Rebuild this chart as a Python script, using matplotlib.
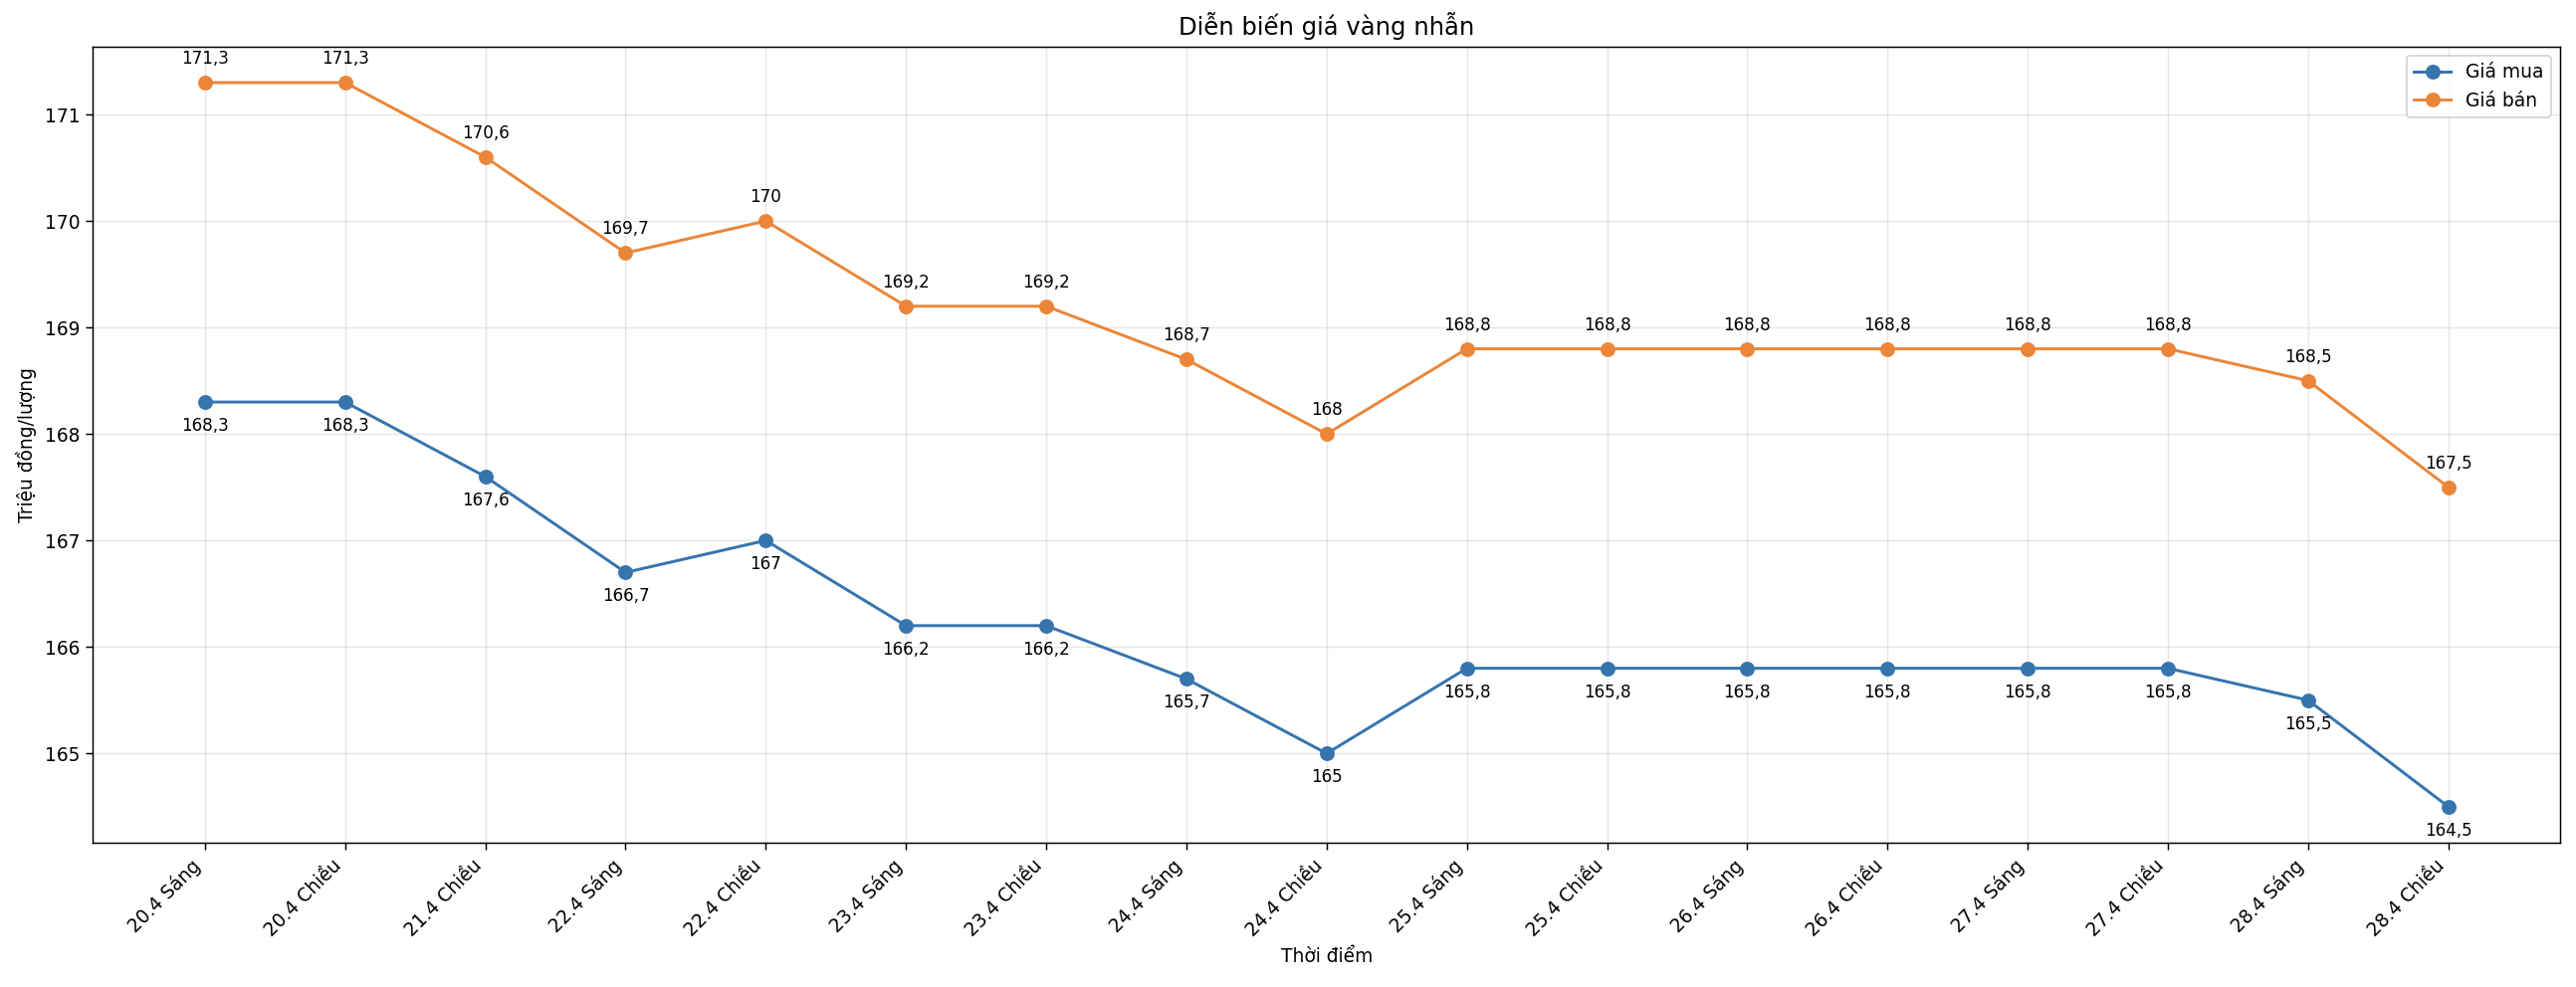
import numpy as np
import matplotlib
matplotlib.use("Agg")
import matplotlib.pyplot as plt

TIME_LABELS = [
    "20.4 Sáng", "20.4 Chiều", "21.4 Chiều", "22.4 Sáng", "22.4 Chiều",
    "23.4 Sáng", "23.4 Chiều", "24.4 Sáng", "24.4 Chiều", "25.4 Sáng",
    "25.4 Chiều", "26.4 Sáng", "26.4 Chiều", "27.4 Sáng", "27.4 Chiều",
    "28.4 Sáng", "28.4 Chiều",
]
GIA_MUA = [168.3, 168.3, 167.6, 166.7, 167.0, 166.2, 166.2, 165.7, 165.0,
           165.8, 165.8, 165.8, 165.8, 165.8, 165.8, 165.5, 164.5]
GIA_BAN = [171.3, 171.3, 170.6, 169.7, 170.0, 169.2, 169.2, 168.7, 168.0,
           168.8, 168.8, 168.8, 168.8, 168.8, 168.8, 168.5, 167.5]

COLOR_MUA = "#3674AE"
COLOR_BAN = "#EB8639"
DPI = 134


def fmt(v):
    return f"{v:g}".replace(".", ",")


def main():
    fig, ax = plt.subplots(figsize=(2588 / DPI, 992 / DPI), dpi=DPI)
    x = np.arange(len(TIME_LABELS))

    ax.plot(x, GIA_MUA, marker="o", color=COLOR_MUA, linewidth=1.6, markersize=7, label="Giá mua")
    ax.plot(x, GIA_BAN, marker="o", color=COLOR_BAN, linewidth=1.6, markersize=7, label="Giá bán")

    for xi, v in zip(x, GIA_MUA):
        ax.annotate(fmt(v), (xi, v), xytext=(0, -8), textcoords="offset points",
                    ha="center", va="top", fontsize=9)
    for xi, v in zip(x, GIA_BAN):
        ax.annotate(fmt(v), (xi, v), xytext=(0, 8), textcoords="offset points",
                    ha="center", va="bottom", fontsize=9)

    ax.set_xticks(x)
    ax.set_xticklabels(TIME_LABELS, rotation=45, ha="right", fontsize=10)
    ax.tick_params(axis="y", labelsize=10)
    ax.set_title("Diễn biến giá vàng nhẫn", fontsize=13)
    ax.set_xlabel("Thời điểm", fontsize=10)
    ax.set_ylabel("Triệu đồng/lượng", fontsize=10)
    ax.grid(True, alpha=0.3)
    ax.legend(loc="upper right", fontsize=10)

    fig.subplots_adjust(left=0.036, right=0.994, top=0.953, bottom=0.146)
    fig.savefig("out.png", dpi=DPI)
    plt.close(fig)


if __name__ == "__main__":
    main()
